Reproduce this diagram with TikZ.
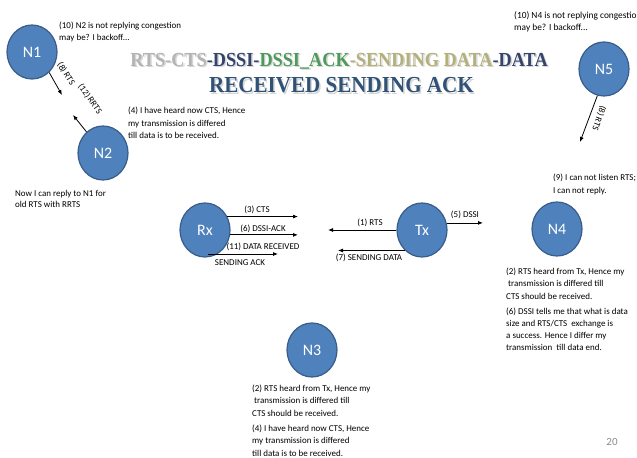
\documentclass[tikz,border=0pt]{standalone}
\usepackage{fontspec}
\setmainfont{Carlito}
\newfontfamily\titlefont{Liberation Serif}
\usetikzlibrary{arrows.meta,shapes.geometric,calc}

\definecolor{nodefill}{HTML}{4F81BD}
\definecolor{nodeline}{HTML}{385D8A}
\definecolor{tgray}{HTML}{B4B4B4}
\definecolor{tnavy}{HTML}{34446C}
\definecolor{tgreen}{HTML}{4E9A5C}
\definecolor{tkhaki}{HTML}{B3B07A}
\definecolor{tblue}{HTML}{2F5276}
\definecolor{pagenum}{HTML}{8C8C8C}

\tikzset{
  station/.style={ellipse, draw=nodeline, line width=1.2bp, fill=nodefill,
    minimum width=50bp, minimum height=54bp, inner sep=0pt,
    text=white, font={\fontsize{16}{18}\selectfont}},
  note/.style={anchor=north west, inner sep=0pt, align=left,
    font={\fontsize{9}{12.5}\selectfont}},
  msg/.style={inner sep=0pt, font={\fontsize{9}{10}\selectfont}},
  arr/.style={-{Latex[length=5bp,width=4bp]}, line width=0.8bp},
  titleA/.style={inner sep=0pt, font={\titlefont\bfseries\fontsize{20}{22}\selectfont}},
  titleB/.style={inner sep=0pt, font={\titlefont\bfseries\fontsize{23}{25}\selectfont}},
  shade/.style={text=black, opacity=0.16},
}

\newcommand{\titleA}{\scalebox{0.916}[1]{%
  \textcolor{tgray}{RTS-CTS}\textcolor{tnavy}{-DSSI-}\textcolor{tgreen}{DSSI\_ACK}%
  \textcolor{tkhaki}{-SENDING DATA}\textcolor{tnavy}{-DATA}}}
\newcommand{\titleB}{\scalebox{0.92}[1]{\textcolor{tblue}{RECEIVED SENDING ACK}}}
\newcommand{\titleAplain}{\scalebox{0.916}[1]{RTS-CTS-DSSI-DSSI\_ACK-SENDING DATA-DATA}}
\newcommand{\titleBplain}{\scalebox{0.92}[1]{RECEIVED SENDING ACK}}

\begin{document}
\begin{tikzpicture}[x=1bp,y=-1bp]
  \fill[white] (0,0) rectangle (637,458);
  \useasboundingbox (0,0) rectangle (637,458);

  % title with a soft drop shadow
  \node[titleA, shade] (titleAs) at (340.5,62.5) {\titleAplain};
  \node[titleB, shade] (titleBs) at (343,87) {\titleBplain};
  \node[titleA] (titleA) at (339,61) {\titleA};
  \node[titleB] (titleB) at (341.5,85.5) {\titleB};

  % stations
  \node[station] (N1) at (32,52) {N1};
  \node[station] (N2) at (103,153) {N2};
  \node[station] (N5) at (604,69) {N5};
  \node[station] (Rx) at (205,230) {Rx};
  \node[station] (Tx) at (422,230) {Tx};
  \node[station] (N4) at (557,229) {N4};
  \node[station] (N3) at (312,350) {N3};

  % free ends of the message arrows
  \coordinate (n1rts)  at (62,95);
  \coordinate (n2rrts) at (73,115);
  \coordinate (n5rts)  at (580,142);
  \coordinate (ctsEnd)  at (298,217);
  \coordinate (ackEnd)  at (298,235);
  \coordinate (recvEnd) at (278,254);
  \coordinate (rtsEnd)  at (328,230);
  \coordinate (dataEnd) at (338,248);
  \coordinate (dssiEnd) at (483,223);

  % N1 / N2 exchange
  \draw[arr] (N1.-50) -- (n1rts);
  \draw[arr] (N2.128) -- (n2rrts);
  \node[msg, rotate=-58] (l8a) at (66,74) {(8) RTS};
  \node[msg, rotate=-55] (l12) at (90,99) {(12) RRTS};

  % N5 request
  \draw[arr] (N5.-104) -- (n5rts);
  \node[msg, rotate=-110] (l8b) at (599,118) {(8) RTS};

  % receiver side
  \draw[arr] (Rx.31) -- (Rx.31 -| ctsEnd);
  \draw[arr] (Rx.-11) -- (Rx.-11 -| ackEnd);
  \draw[arr] ($(Rx.center)+(3,24)$) -- (recvEnd);
  \node[msg] (l3)  at (257,210) {(3) CTS};
  \node[msg] (l6)  at (263,228.5) {(6) DSSI-ACK};
  \node[msg] (l11) at (263,246.5) {(11) DATA RECEIVED};
  \node[msg] (l11b) at (240,263) {SENDING ACK};

  % transmitter side
  \draw[arr] (Tx.west) -- (Tx.west -| rtsEnd);
  \draw[arr] (Tx.-130) -- (Tx.-130 -| dataEnd);
  \draw[arr] (Tx.16) -- (Tx.16 -| dssiEnd);
  \node[msg] (l1) at (370,223) {(1) RTS};
  \node[msg] (l7) at (369,258) {(7) SENDING DATA};
  \node[msg] (l5) at (465,215) {(5) DSSI};

  % remarks of the neighbours
  \node[note] (t10a) at (59,21.4) {(10) N2 is not replying congestion\\may be? I backoff...};
  \node[note] (t4a) at (128,107.2) {(4) I have heard now CTS, Hence\\my transmission is differed\\till data is to be received.};
  \node[note, font={\fontsize{9}{11}\selectfont}] (tnow) at (15,190.2) {Now I can reply to N1 for\\old RTS with RRTS};
  \node[note, font={\fontsize{9.4}{12}\selectfont}] (t10b) at (514,11.2) {(10) N4 is not replying congestion\\may be? I backoff...};
  \node[note, font={\fontsize{9}{13}\selectfont}] (t9) at (553,173.4) {(9) I can not listen RTS;\\I can not reply.};
  \node[note] (t2a) at (506,267.4) {(2) RTS heard from Tx, Hence my\\\hspace*{2bp}transmission is differed till\\CTS should be received.};
  \node[note, font={\fontsize{9}{12}\selectfont}] (t6) at (506,307.4) {(6) DSSI tells me that what is data\\size and RTS/CTS\ \ exchange is\\a success. Hence I differ my\\transmission\ \ till data end.};
  \node[note] (t2b) at (252,384.4) {(2) RTS heard from Tx, Hence my\\\hspace*{2bp}transmission is differed till\\CTS should be received.};
  \node[note] (t4b) at (252,424.4) {(4) I have heard now CTS, Hence\\my transmission is differed\\till data is to be received.};

  % slide number
  \node[inner sep=0pt, text=pagenum, font={\fontsize{11}{12}\selectfont}] (pg) at (612,442) {20};
\end{tikzpicture}
\end{document}
